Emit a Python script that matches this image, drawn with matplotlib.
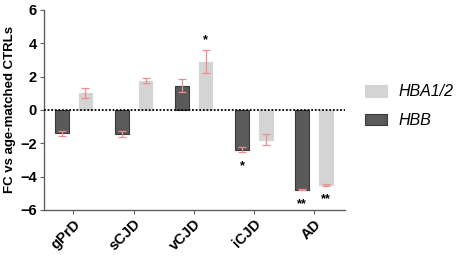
import matplotlib
matplotlib.use('Agg')
from matplotlib import pyplot as plt
import numpy as np

groups = ['gPrD', 'sCJD', 'vCJD', 'iCJD', 'AD']
hbb = [-1.4, -1.45, 1.45, -2.4, -4.8]
hbb_err = [0.15, 0.2, 0.4, 0.15, 0.03]
hba = [1.0, 1.75, 2.9, -1.8, -4.5]
hba_err = [0.3, 0.15, 0.7, 0.33, 0.04]
hbb_stars = ['', '', '', '*', '**']
hba_stars = ['', '', '*', '', '**']

plt.rcParams['font.family'] = ['Liberation Sans', 'DejaVu Sans']

fig = plt.figure(figsize=(4.59, 2.56), dpi=100)
ax = fig.add_axes([0.096, 0.18, 0.656, 0.781])

x = np.arange(len(groups))
w = 0.23
dark = '#5a5a5a'
light = '#d4d4d4'
err_col = '#f08c8c'

ax.bar(x - 0.19, hbb, w, color=dark, edgecolor='#3a3a3a', linewidth=0.8,
       label='HBB', zorder=2)
ax.bar(x + 0.2, hba, w, color=light, edgecolor=light, linewidth=0.8,
       label='HBA1/2', zorder=2)
ax.errorbar(x - 0.19, hbb, yerr=hbb_err, fmt='none', ecolor=err_col,
            elinewidth=0.9, capsize=3, capthick=0.9, zorder=3)
ax.errorbar(x + 0.2, hba, yerr=hba_err, fmt='none', ecolor=err_col,
            elinewidth=0.9, capsize=3, capthick=0.9, zorder=3)

# significance stars
for xs, vals, errs, stars in [(x - 0.19, hbb, hbb_err, hbb_stars),
                              (x + 0.2, hba, hba_err, hba_stars)]:
    for xi, v, e, s in zip(xs, vals, errs, stars):
        if not s:
            continue
        if v > 0:
            ax.text(xi, v + e + 0.2, s, ha='center', va='bottom',
                    fontsize=9, fontweight='bold')
        else:
            ax.text(xi, v - e - 0.45, s, ha='center', va='top',
                    fontsize=9, fontweight='bold')

ax.axhline(0, color='black', linestyle=(0, (1, 1)), linewidth=1.3, zorder=4)

ax.set_xlim(-0.49, 4.525)
ax.set_ylim(-6, 6)
ax.set_yticks(range(-6, 7, 2))
ax.set_xticks(x)
ax.set_xticklabels(groups, rotation=45, ha='right', rotation_mode='anchor',
                   fontsize=10.5, fontweight='bold')
for lab in ax.get_yticklabels():
    lab.set_fontweight('bold')
    lab.set_fontsize(10.5)
ax.set_ylabel('FC vs age-matched CTRLs', fontsize=9.5, fontweight='bold',
              labelpad=3)

for side in ['top', 'right']:
    ax.spines[side].set_visible(False)
for side in ['left', 'bottom']:
    ax.spines[side].set_color('#606060')
    ax.spines[side].set_linewidth(1.0)
ax.tick_params(color='#606060', length=3, pad=2)

handles, labels = ax.get_legend_handles_labels()
leg = fig.legend(handles[::-1], labels[::-1], loc='center left',
                 bbox_to_anchor=(0.795, 0.585), frameon=False,
                 borderaxespad=0, borderpad=0,
                 prop={'style': 'italic', 'size': 11.5},
                 handlelength=1.4, handleheight=0.75, handletextpad=0.7,
                 labelspacing=0.85)

fig.savefig('out.png', dpi=100)
